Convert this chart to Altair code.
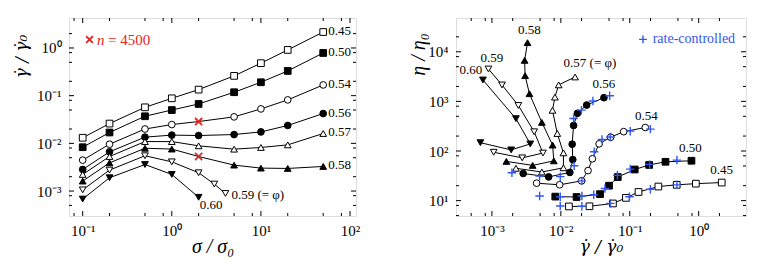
import altair as alt
import pandas as pd

FONT = "Liberation Serif"
GFONT = "DejaVu Serif"
RED = "#e8231f"
BLUE = "#2f55f5"

# ---------------- data ----------------
series = ["0.45", "0.50", "0.54", "0.56", "0.57", "0.58", "0.59", "0.60"]
sigma_std = [0.1, 0.2, 0.5, 1, 2, 5, 10, 20, 50]
sigma_059 = [0.1, 0.2, 0.5, 1, 2, 3, 4]
sigma_060 = [0.1, 0.2, 0.5, 1, 2]

gd_045 = [0.0131, 0.026, 0.057, 0.088, 0.134, 0.26, 0.48, 0.91, 2.16]
gd_050 = [0.0083, 0.0169, 0.037, 0.050, 0.067, 0.118, 0.191, 0.33, 0.786]
gd_054 = [0.00445, 0.0096, 0.020, 0.0248, 0.0287, 0.0359, 0.0528, 0.0815, 0.168]
gd_056 = [0.00284, 0.00665, 0.0135, 0.0149, 0.0146, 0.0153, 0.0174, 0.0237, 0.0422]
gd_057 = [0.00223, 0.0053, 0.0109, 0.0109, 0.00888, 0.00756, 0.0082, 0.0093, 0.0161]
gd_058 = [0.00162, 0.0039, 0.0079, 0.0076, 0.0053, 0.0035, 0.00303, 0.00298, 0.00328]
gd_059 = [0.00106, 0.00275, 0.0055, 0.0041, 0.00242, 0.0014, 0.00089]
gd_060 = [0.00068, 0.0019, 0.0036, 0.00223, 0.00074]

# n = 4500 runs (red crosses, left panel)
n4500_sigma = [2, 2]
n4500_gd = [0.0287, 0.0053]

# rate-controlled runs (blue plus, right panel)
rc_gd = [0.00195, 0.00492, 0.00492, 0.0098, 0.0098, 0.0098, 0.0156, 0.0153,
         0.0199, 0.0202, 0.0202, 0.0202, 0.0292, 0.0511, 0.0305, 0.0395,
         0.0521, 0.1016, 0.199, 0.030, 0.0437, 0.0662, 0.1016, 0.1945,
         0.484, 0.0521, 0.099, 0.199, 0.484]
rc_eta = [36.5, 31.3, 12.4, 30.4, 12.0, 7.8, 50.6, 453,
          665, 25.0, 12.4, 7.7, 1019, 1297, 96.8, 171,
          192, 251, 276, 13.1, 17.5, 32.3, 43.2, 53.7,
          65.6, 8.8, 12.0, 17.0, 20.8]

# axis tick values
lx_major = [0.1, 1, 10, 100]
lx_minor = [0.08, 0.2, 0.5, 0.8, 2, 5, 8, 20, 50, 80]
ly_major = [0.001, 0.01, 0.1, 1]
ly_minor = [0.0005, 0.0008, 0.002, 0.005, 0.008, 0.02, 0.05, 0.08, 0.2, 0.5, 0.8, 2]
rx_major = [0.001, 0.01, 0.1, 1]
rx_minor = [0.0005, 0.0008, 0.002, 0.005, 0.008, 0.02, 0.05, 0.08, 0.2, 0.5, 0.8, 2]
ry_major = [10, 100, 1000, 10000]
ry_minor = [5, 8, 20, 50, 80, 200, 500, 800, 2000, 5000, 8000, 20000]
pow_labels = {-3: "10⁻³", -2: "10⁻²", -1: "10⁻¹", 0: "10⁰", 1: "10¹", 2: "10²", 3: "10³", 4: "10⁴"}

# ---------------- tables ----------------
sigmas = [sigma_std] * 6 + [sigma_059, sigma_060]
gds = [gd_045, gd_050, gd_054, gd_056, gd_057, gd_058, gd_059, gd_060]
cross_pts = set(zip(n4500_sigma, n4500_gd))
rows = []
for name, sig, gd in zip(series, sigmas, gds):
    for i, (s, g) in enumerate(zip(sig, gd)):
        rows.append(dict(series=name, sigma=s, gd=g, eta=s / g, order=i,
                         hidden=(s, g) in cross_pts))
df = pd.DataFrame(rows)
ends = df.loc[df.groupby("series")["order"].idxmax()].set_index("series")
df_nx = pd.DataFrame({"sigma": n4500_sigma, "gd": n4500_gd})
df_rc = pd.DataFrame({"gd": rc_gd, "eta": rc_eta})

shape_range = ["square", "square", "circle", "circle",
               "triangle-up", "triangle-up", "triangle-down", "triangle-down"]
fill_range = ["white", "black"] * 4
size_range = [45, 45, 36, 36, 50, 50, 50, 50]
XPATH = "M-1,-1L1,1M-1,1L1,-1"
PLUS = "M-1,0L1,0M0,-1L0,1"

label_expr = "".join(
    f"round(log(datum.value)/LN10) == {k} ? '{v}' : " for k, v in pow_labels.items()
) + "''"


def make_axis(values, title, orient, tx=None, ty=None, tfont=FONT, tsize=20):
    kw = dict(values=values, labelExpr=label_expr, ticks=False, domain=False, grid=False,
              labelFont=FONT, labelFontSize=15, labelPadding=7, labelColor="black",
              title=title, titleFont=tfont, titleFontSize=tsize, titleFontStyle="italic",
              titleFontWeight="normal", titleColor="black", titleBaseline="middle",
              titleAlign="center")
    if orient == "left":
        kw.update(titleAngle=270, titleX=tx, titleY=ty, labelPadding=8)
    else:
        kw.update(titleY=ty)
    return alt.Axis(**kw)


def ticks(xmaj, xmin, ymaj, ymin, xs, ys, xa, ya, W, H):
    out = []
    for vals, L in ((xmaj, 5), (xmin, 3)):
        base = alt.Chart(pd.DataFrame({"v": vals})).mark_rule(color="black", strokeWidth=1)
        xe = alt.X("v:Q", scale=xs, axis=xa)
        out.append(base.encode(x=xe, y=alt.value(H), y2=alt.value(H - L)))
        out.append(base.encode(x=xe, y=alt.value(0), y2=alt.value(L)))
    for vals, L in ((ymaj, 5), (ymin, 3)):
        base = alt.Chart(pd.DataFrame({"v": vals})).mark_rule(color="black", strokeWidth=1)
        ye = alt.Y("v:Q", scale=ys, axis=ya)
        out.append(base.encode(y=ye, x=alt.value(0), x2=alt.value(L)))
        out.append(base.encode(y=ye, x=alt.value(W), x2=alt.value(W - L)))
    return out


shape_enc = alt.Shape("series:N", scale=alt.Scale(domain=series, range=shape_range), legend=None)
fill_enc = alt.Fill("series:N", scale=alt.Scale(domain=series, range=fill_range), legend=None)
size_enc = alt.Size("series:N", scale=alt.Scale(domain=series, range=size_range), legend=None)

# ---------------- left panel ----------------
LW, LH = 287, 198
lx = alt.Scale(type="log", domain=[0.0702, 116.7], nice=False)
ly = alt.Scale(type="log", domain=[0.0003, 4.25], nice=False)
lxa = make_axis(lx_major, "σ / σ₀", "bottom", ty=30)
lya = make_axis(ly_major, "γ̇ / γ̇₀", "left", tx=-48, ty=38, tfont=GFONT, tsize=17)
LX = alt.X("sigma:Q", scale=lx, axis=lxa)
LY = alt.Y("gd:Q", scale=ly, axis=lya)

l_lines = alt.Chart(df).mark_line(color="black", strokeWidth=1).encode(
    x=LX, y=LY, detail="series:N", order="order:Q")
l_pts = alt.Chart(df[~df.hidden]).mark_point(filled=True, stroke="black", strokeWidth=1, opacity=1).encode(
    x=LX, y=LY, shape=shape_enc, fill=fill_enc, size=size_enc)
l_nx = alt.Chart(df_nx).mark_point(shape=XPATH, color=RED, strokeWidth=1.8, size=50, filled=False, opacity=1).encode(
    x=LX, y=LY)

l_labels = []
lend = ends.reset_index()
lend["label"] = lend["series"]
lend.loc[lend.series == "0.59", "label"] = "0.59 (= φ)"
left_offsets = {"0.59": (6, 2), "0.60": (1, 8)}
for name in series:
    dx, dy = left_offsets.get(name, (5, -1))
    l_labels.append(
        alt.Chart(lend[lend.series == name]).mark_text(
            font=FONT, fontSize=13, align="left", baseline="middle", dx=dx, dy=dy, color="black"
        ).encode(x=LX, y=LY, text="label:N"))

leg_l = pd.DataFrame({"t": ["n"]})
l_leg = [
    alt.Chart(leg_l).mark_point(shape=XPATH, color=RED, strokeWidth=1.8, size=45, filled=False, opacity=1).encode(
        x=alt.value(20.5), y=alt.value(21.6)),
    alt.Chart(leg_l).mark_text(font=FONT, fontSize=15, fontStyle="italic", color=RED, align="left",
                               baseline="middle").encode(x=alt.value(28), y=alt.value(21.6), text=alt.value("n")),
    alt.Chart(leg_l).mark_text(font=FONT, fontSize=15, color=RED, align="left",
                               baseline="middle").encode(x=alt.value(39), y=alt.value(21.6), text=alt.value("= 4500")),
]

left = alt.layer(
    l_lines, *ticks(lx_major, lx_minor, ly_major, ly_minor, lx, ly, lxa, lya, LW, LH),
    l_pts, l_nx, *l_labels, *l_leg
).properties(width=LW, height=LH)

# ---------------- right panel ----------------
RW, RH = 290, 198
rx = alt.Scale(type="log", domain=[0.000301, 4.86], nice=False)
ry = alt.Scale(type="log", domain=[4.9, 47900], nice=False)
rxa = make_axis(rx_major, "γ̇ / γ̇₀", "bottom", ty=30, tfont=GFONT, tsize=17)
rya = make_axis(ry_major, "η / η₀", "left", tx=-38, ty=36)
RX = alt.X("gd:Q", scale=rx, axis=rxa)
RY = alt.Y("eta:Q", scale=ry, axis=rya)

r_lines = alt.Chart(df).mark_line(color="black", strokeWidth=1).encode(
    x=RX, y=RY, detail="series:N", order="order:Q")
r_pts = alt.Chart(df).mark_point(filled=True, stroke="black", strokeWidth=1, opacity=1).encode(
    x=RX, y=RY, shape=shape_enc, fill=fill_enc, size=size_enc)
r_rc = alt.Chart(df_rc).mark_point(shape=PLUS, color=BLUE, strokeWidth=1.4, size=72, filled=False, opacity=1).encode(
    x=RX, y=RY)

rend = ends.reset_index()
rend["label"] = rend["series"]
rend.loc[rend.series == "0.57", "label"] = "0.57 (= φ)"
right_offsets = {
    "0.45": ("center", 0, -12.5), "0.50": ("center", -1, -13), "0.54": ("center", 1, -11.5),
    "0.56": ("center", 0, -13.5), "0.57": ("left", -11.5, -14.4), "0.58": ("center", 2, -12.4),
    "0.59": ("center", 3.5, -11), "0.60": ("center", -12, -10),
}
r_labels = []
for name in series:
    al, dx, dy = right_offsets[name]
    r_labels.append(
        alt.Chart(rend[rend.series == name]).mark_text(
            font=FONT, fontSize=13, align=al, baseline="middle", dx=dx, dy=dy, color="black"
        ).encode(x=RX, y=RY, text="label:N"))

leg_r = pd.DataFrame({"t": ["rate-controlled"]})
r_leg = [
    alt.Chart(leg_r).mark_point(shape=PLUS, color=BLUE, strokeWidth=1.4, size=60, filled=False, opacity=1).encode(
        x=alt.value(187), y=alt.value(21.4)),
    alt.Chart(leg_r).mark_text(font=FONT, fontSize=14, color=BLUE, align="left", baseline="middle").encode(
        x=alt.value(196.7), y=alt.value(21.4), text="t:N"),
]

right = alt.layer(
    r_lines, *ticks(rx_major, rx_minor, ry_major, ry_minor, rx, ry, rxa, rya, RW, RH),
    r_pts, r_rc, *r_labels, *r_leg
).properties(width=RW, height=RH)

chart = alt.hconcat(left, right, spacing=46).properties(
    padding={"left": 3, "top": 9, "right": 5, "bottom": 5}
).configure_view(stroke="black", strokeWidth=1).configure(font=FONT, background="white")

chart.save("out.html", embed_options={"renderer": "svg", "actions": False})
